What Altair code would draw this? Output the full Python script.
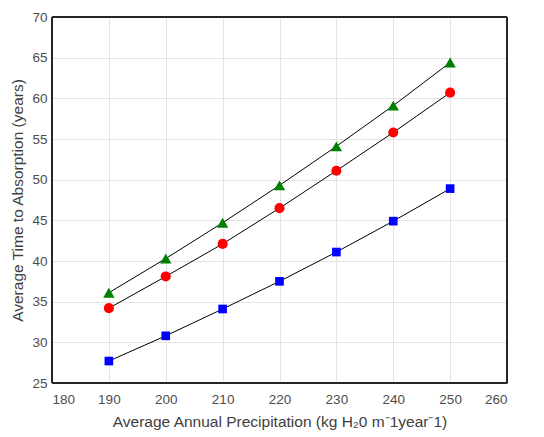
import altair as alt
import pandas as pd

precip = [190, 200, 210, 220, 230, 240, 250]
green_vals = [36.1, 40.3, 44.7, 49.3, 54.1, 59.1, 64.4]
red_vals = [34.2, 38.1, 42.1, 46.5, 51.1, 55.8, 60.7]
blue_vals = [27.7, 30.8, 34.1, 37.5, 41.1, 44.9, 48.9]

series_names = ["A", "B", "C"]
series_vals = [green_vals, red_vals, blue_vals]
series_colors = ["#008000", "#ff0000", "#0000ff"]
series_shapes = ["triangle-up", "circle", "square"]
series_sizes = [130, 75, 60]

rows = []
for name, vals in zip(series_names, series_vals):
    for x, y in zip(precip, vals):
        rows.append({"x": x, "y": y, "s": name})
df = pd.DataFrame(rows)

font = "Liberation Sans"
xscale = alt.Scale(domain=[180, 260], nice=False, zero=False)
yscale = alt.Scale(domain=[25, 70], nice=False, zero=False)

xaxis = alt.Axis(values=list(range(180, 261, 10)), title="Average Annual Precipitation (kg H\u20820 m\u207b1year\u207b1)",
                 grid=True, gridColor="#e3e3e3", domainColor="#262626", tickColor="#262626",
                 tickSize=0, labelFont=font, labelFontSize=13.5, labelColor="#4d4d4d", labelPadding=9,
                 titleFont=font, titleFontSize=15.5, titleFontWeight="normal", titleColor="#404040", titlePadding=9)
yaxis = alt.Axis(values=list(range(25, 71, 5)), title="Average Time to Absorption (years)",
                 grid=True, gridColor="#e3e3e3", domainColor="#262626", tickColor="#262626",
                 tickSize=0, labelFont=font, labelFontSize=13.5, labelColor="#4d4d4d", labelPadding=5,
                 titleFont=font, titleFontSize=15.5, titleFontWeight="normal", titleColor="#404040", titlePadding=6)

lines = alt.Chart(df).mark_line(color="black", strokeWidth=1).encode(
    x=alt.X("x:Q", scale=xscale, axis=xaxis),
    y=alt.Y("y:Q", scale=yscale, axis=yaxis),
    detail="s:N",
)
points = alt.Chart(df).mark_point(filled=True, opacity=1).encode(
    x=alt.X("x:Q", scale=xscale),
    y=alt.Y("y:Q", scale=yscale),
    color=alt.Color("s:N", scale=alt.Scale(domain=series_names, range=series_colors), legend=None),
    shape=alt.Shape("s:N", scale=alt.Scale(domain=series_names, range=series_shapes), legend=None),
    size=alt.Size("s:N", scale=alt.Scale(domain=series_names, range=series_sizes), legend=None),
)
frame = alt.Chart(df).mark_rect(filled=False, stroke="#262626", strokeWidth=1).encode(
    x=alt.value(0), x2=alt.value(455), y=alt.value(0), y2=alt.value(366)
)

chart = alt.layer(lines, points, frame).properties(
    width=455, height=366,
    autosize=alt.AutoSizeParams(type="none"),
    padding={"left": 52, "top": 17, "right": 37, "bottom": 54},
    background="white",
).configure_view(stroke=None)

chart.save("out.html", embed_options={"renderer": "svg", "actions": False})
